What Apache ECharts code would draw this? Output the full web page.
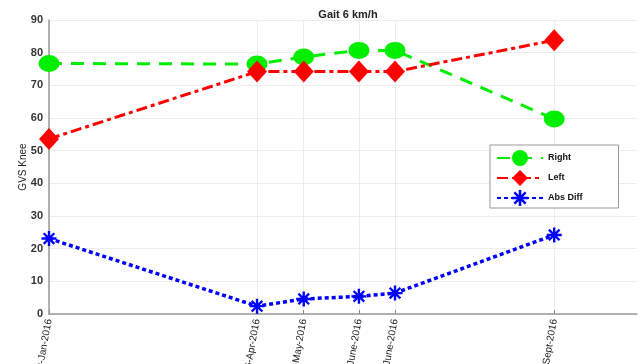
<!DOCTYPE html>
<html><head><meta charset="utf-8">
<script src="https://cdn.jsdelivr.net/npm/echarts@6/dist/echarts.min.js"></script>
<style>html,body{margin:0;padding:0;background:#fff}#c{width:642px;height:364px}</style>
</head><body><div id="c"></div>
<script>
const dates = ['2016-01-19','2016-04-26','2016-05-18','2016-06-13','2016-06-30','2016-09-13'];
const dateLabels = ['19-Jan-2016','26-Apr-2016','18-May-2016','13-June-2016','30-June-2016','13-Sept-2016'];
const rightVals = [76.7, 76.5, 78.7, 80.7, 80.7, 59.7];
const leftVals  = [53.6, 74.2, 74.2, 74.2, 74.2, 83.8];
const diffVals  = [23.1, 2.4, 4.6, 5.4, 6.4, 24.2];
const yTicks = [0,10,20,30,40,50,60,70,80,90];

const DAY = 86400000;
const t0 = Date.parse(dates[0] + 'T00:00:00Z');
const days = dates.map(d => Math.round((Date.parse(d + 'T00:00:00Z') - t0) / DAY));
const dayMax = Math.round((Date.parse('2016-10-22T00:00:00Z') - t0) / DAY);
const pair = arr => days.map((t,i) => [t, arr[i]]);
const asterisk = 'path://M0,4.2L10,4.2L10,5.8L0,5.8Z M4.2,0L5.8,0L5.8,10L4.2,10Z M0.9,2.0L2.0,0.9L9.1,8.0L8.0,9.1Z M8.0,0.9L9.1,2.0L2.0,9.1L0.9,8.0Z';

const chart = echarts.init(document.getElementById('c'), null, {renderer:'canvas'});
chart.setOption({
  animation:false,
  backgroundColor:'#fff',
  title:{text:'Gait 6 km/h', left:343, top:4, textAlign:'center',
    textStyle:{fontFamily:'Liberation Sans, Arial, sans-serif', fontSize:11, fontWeight:'bold', color:'#222'}},
  grid:{left:49, right:5, top:20, bottom:50, outerBoundsMode:'none', containLabel:false},
  legend:{
    orient:'vertical', left:490, top:145,
    backgroundColor:'#fff', borderColor:'#999', borderWidth:1, borderRadius:0,
    padding:[5,36,2,6], itemGap:4, itemWidth:46, itemHeight:20,
    textStyle:{fontFamily:'Liberation Sans, Arial, sans-serif', fontSize:9, fontWeight:'bold', color:'#111'},
    data:['Right','Left','Abs Diff']
  },
  xAxis:{
    type:'value', min:0, max:dayMax,
    axisLine:{show:true, lineStyle:{color:'#999', width:1.5}},
    axisTick:{show:true, customValues: days, length:4, inside:true, lineStyle:{color:'#888'}},
    splitLine:{show:true, lineStyle:{color:'#ececec', width:1}},
    axisLabel:{customValues: days, rotate:80, margin:5, fontSize:10, color:'#222',
      fontFamily:'Liberation Sans, Arial, sans-serif',
      formatter:(v)=>{const i = days.indexOf(v); return i>=0 ? dateLabels[i] : '';}}
  },
  yAxis:{
    type:'value', min:0, max:90, interval:10,
    name:'GVS Knee', nameLocation:'middle', nameGap:21, nameMoveOverlap:false,
    nameTextStyle:{fontFamily:'Liberation Sans, Arial, sans-serif', fontSize:10, color:'#222'},
    axisLine:{show:true, lineStyle:{color:'#999', width:1.5}},
    axisTick:{show:false},
    splitLine:{show:true, lineStyle:{color:'#ececec', width:1}},
    axisLabel:{fontFamily:'Liberation Sans, Arial, sans-serif', fontSize:11, fontWeight:'bold', color:'#333', margin:6,
      formatter:(v)=> yTicks.includes(v) ? String(v) : ''}
  },
  series:[
    {name:'Right', type:'line', data:pair(rightVals), color:'#00ee00',
      symbol:'circle', symbolSize:[21,17],
      lineStyle:{color:'#00ee00', width:3, type:[13,9]},
      itemStyle:{color:'#00ee00'}, z:2},
    {name:'Left', type:'line', data:pair(leftVals), color:'#ff0000',
      symbol:'diamond', symbolSize:[20,22],
      lineStyle:{color:'#ff0000', width:3, type:[11,4,4,4]},
      itemStyle:{color:'#ff0000'}, z:3},
    {name:'Abs Diff', type:'line', data:pair(diffVals), color:'#0000ff',
      symbol:asterisk, symbolSize:15,
      lineStyle:{color:'#0000ff', width:3.5, type:[4,3]},
      itemStyle:{color:'#0000ff'}, z:4}
  ]
});
</script></body></html>
